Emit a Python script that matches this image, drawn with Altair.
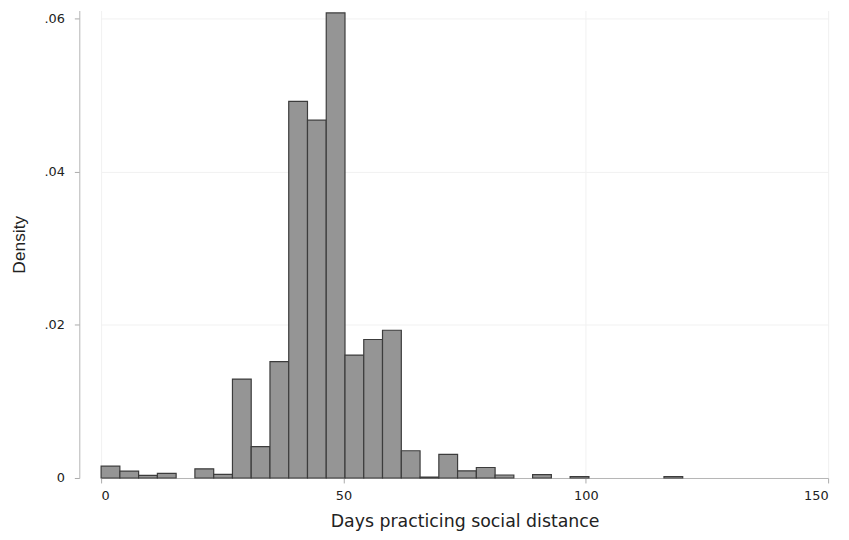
import altair as alt
import pandas as pd

# Histogram bin edges (31 bins of width 120/31) and bar densities
bin_edges = [0.00, 3.87, 7.74, 11.61, 15.48, 19.35, 23.23, 27.10, 30.97, 34.84,
             38.71, 42.58, 46.45, 50.32, 54.19, 58.06, 61.94, 65.81, 69.68, 73.55,
             77.42, 81.29, 85.16, 89.03, 92.90, 96.77, 100.65, 104.52, 108.39,
             112.26, 116.13, 120.00]
density = [0.00155, 0.00090, 0.00034, 0.00060, 0.0, 0.00120, 0.00047, 0.01293,
           0.00409, 0.01521, 0.04922, 0.04676, 0.06078, 0.01607, 0.01810, 0.01931,
           0.00356, 0.00012, 0.00310, 0.00094, 0.00137, 0.00039, 0.0, 0.00043,
           0.0, 0.00020, 0.0, 0.0, 0.0, 0.0, 0.00020]

x_ticks = [0, 50, 100, 150]
y_ticks = [0, 0.02, 0.04, 0.06]

df = pd.DataFrame({"start": bin_edges[:-1], "end": bin_edges[1:], "density": density})

chart = (
    alt.Chart(df)
    .transform_filter("datum.density > 0")
    .mark_bar(fill="#959595", stroke="#3c3c3c", strokeWidth=1.2)
    .encode(
        x=alt.X(
            "start:Q",
            scale=alt.Scale(domain=[0, 150], nice=False, zero=False),
            axis=alt.Axis(
                values=x_ticks,
                title="Days practicing social distance",
                labelFont="DejaVu Sans",
                labelFontSize=13,
                labelColor="#222222",
                labelPadding=7,
                tickSize=5,
                tickColor="#aaaaaa",
                domainColor="#b5b5b5",
                grid=True,
                gridColor="#f1f1f1",
                titleFont="DejaVu Sans",
                titleFontSize=17.5,
                titleFontWeight="normal",
                titleColor="#222222",
                titlePadding=10,
            ),
        ),
        x2="end:Q",
        y=alt.Y(
            "density:Q",
            scale=alt.Scale(domain=[0, 0.0611], nice=False),
            axis=alt.Axis(
                values=y_ticks,
                labelExpr="datum.value == 0 ? '0' : replace(format(datum.value, '.2f'), '0.', '.')",
                title="Density",
                offset=22,
                labelFont="DejaVu Sans",
                labelFontSize=13,
                labelColor="#222222",
                labelPadding=10,
                tickSize=5,
                tickColor="#aaaaaa",
                domainColor="#b5b5b5",
                grid=True,
                gridColor="#f1f1f1",
                titleFont="Liberation Sans",
                titleFontSize=17.5,
                titleFontWeight="normal",
                titleColor="#222222",
                titlePadding=16,
            ),
        ),
        y2=alt.datum(0),
    )
    .properties(
        width=734,
        height=472,
        autosize=alt.AutoSizeParams(type="none"),
        padding={"left": 94, "top": 0, "right": 13, "bottom": 52},
        background="white",
    )
    .configure_view(stroke=None)
)

chart.save("out.html", embed_options={"renderer": "svg", "actions": False})
